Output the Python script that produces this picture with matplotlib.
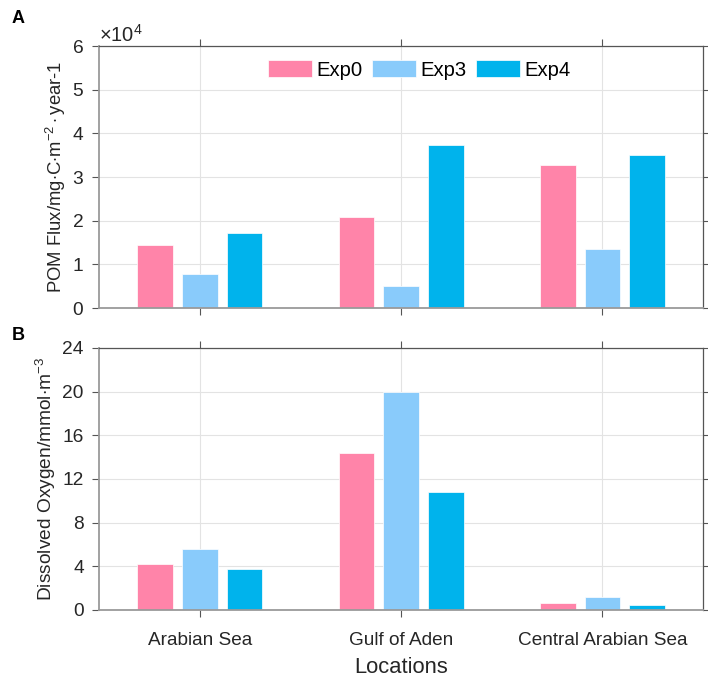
import numpy as np
import matplotlib
matplotlib.use("Agg")
import matplotlib.pyplot as plt
from matplotlib.ticker import ScalarFormatter, FixedLocator

plt.rcParams['font.family'] = ['Liberation Sans', 'DejaVu Sans']
plt.rcParams['mathtext.fontset'] = 'custom'
plt.rcParams['mathtext.rm'] = 'Liberation Sans'
plt.rcParams['mathtext.it'] = 'Liberation Sans'

locations = ["Arabian Sea", "Gulf of Aden", "Central Arabian Sea"]
experiments = ["Exp0", "Exp3", "Exp4"]

# POM flux (mg C m^-2 year^-1)
pom_exp0 = [14500, 20800, 32700]
pom_exp3 = [7900, 5000, 13600]
pom_exp4 = [17200, 37300, 35100]

# Dissolved oxygen (mmol m^-3)
do_exp0 = [4.24, 14.4, 0.61]
do_exp3 = [5.62, 20.0, 1.16]
do_exp4 = [3.75, 10.8, 0.46]

colors = ["#FF84A9", "#89CBFB", "#00B3EC"]

fig = plt.figure(figsize=(7.08, 6.77), dpi=100)
axA = fig.add_axes([0.140, 0.545, 0.853, 0.387])
axB = fig.add_axes([0.140, 0.099, 0.853, 0.387])

x = np.arange(1, len(locations) + 1)
offsets = [-0.222, 0.0, 0.222]
width = 0.177


def style(ax, yticks, ylim):
    ax.set_xlim(0.5, 3.5)
    ax.set_ylim(*ylim)
    ax.yaxis.set_major_locator(FixedLocator(yticks))
    ax.set_xticks(x)
    ax.grid(True, color="#e3e3e3", lw=0.8)
    ax.set_axisbelow(True)
    for s in ("left", "bottom"):
        ax.spines[s].set_color("#9a9a9a")
        ax.spines[s].set_linewidth(1.3)
    for s in ("top", "right"):
        ax.spines[s].set_color("#555555")
        ax.spines[s].set_linewidth(0.9)
    ax.tick_params(axis="x", which="both", direction="out", length=5, width=0.8,
                   color="#555555", top=True, labelsize=13.7, labelcolor="#262626", pad=10.5)
    ax.tick_params(axis="y", direction="out", length=5, width=0.8, color="#555555",
                   labelsize=13.8, labelcolor="#262626", pad=6, right=True)


series_A = [pom_exp0, pom_exp3, pom_exp4]
series_B = [do_exp0, do_exp3, do_exp4]

for vals, off, c, lab in zip(series_A, offsets, colors, experiments):
    axA.bar(x + off, vals, width=width, color=c, edgecolor="#ffffff", linewidth=0.5, label=lab)
for vals, off, c in zip(series_B, offsets, colors):
    axB.bar(x + off, vals, width=width, color=c, edgecolor="#ffffff", linewidth=0.5)

style(axA, np.arange(0, 60001, 10000), (0, 60000))
style(axB, np.arange(0, 25, 4), (0, 24))

fmt = ScalarFormatter(useMathText=True)
fmt.set_powerlimits((0, 0))
axA.yaxis.set_major_formatter(fmt)
axA.yaxis.get_offset_text().set_fontsize(14.5)
axA.yaxis.get_offset_text().set_color("#262626")
axA.set_xticklabels([])
axB.set_xticklabels(locations)

axA.set_ylabel(r"POM Flux/mg$\cdot$C$\cdot$m$^{-2}\cdot$year-1", fontsize=13.3, color="#262626", labelpad=3)
axB.set_ylabel(r"Dissolved Oxygen/mmol$\cdot$m$^{-3}$", fontsize=13.8, color="#262626", labelpad=3)
axB.set_xlabel("Locations", fontsize=15.8, color="#262626", labelpad=6)

axA.legend(loc="upper center", bbox_to_anchor=(0.53, 1.0), ncol=3, frameon=False,
           fontsize=14.6, handlelength=2.2, handleheight=0.93, columnspacing=0.45,
           handletextpad=0.2, borderaxespad=0.3)

fig.text(0.016, 0.973, "A", fontsize=13, fontweight="bold", va="center")
fig.text(0.016, 0.505, "B", fontsize=13, fontweight="bold", va="center")

fig.savefig("out.png", dpi=100, facecolor="white")
